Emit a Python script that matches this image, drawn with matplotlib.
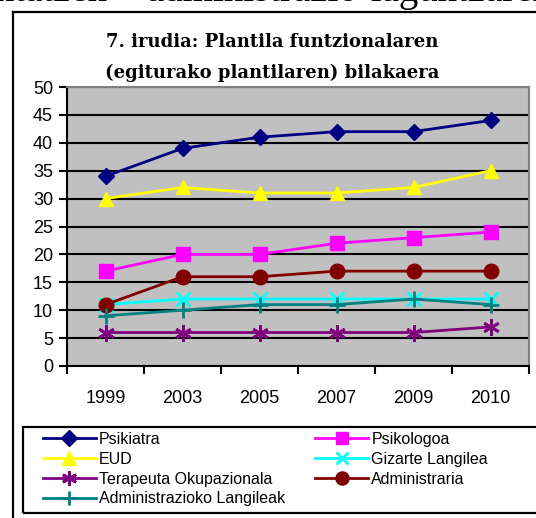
import numpy as np
import matplotlib.pyplot as plt
from matplotlib.lines import Line2D
from matplotlib.patches import Rectangle

years = ["1999", "2003", "2005", "2007", "2009", "2010"]

psikiatra = [34, 39, 41, 42, 42, 44]
psikologoa = [17, 20, 20, 22, 23, 24]
eud = [30, 32, 31, 31, 32, 35]
gizarte = [11, 12, 12, 12, 12, 12]
terapeuta = [6, 6, 6, 6, 6, 7]
administraria = [11, 16, 16, 17, 17, 17]
admin_langileak = [9, 10, 11, 11, 12, 11]

W, H = 536, 518
fig = plt.figure(figsize=(W / 100, H / 100), dpi=100)
plt.rcParams['font.family'] = ['Liberation Sans', 'DejaVu Sans']

# cut off line of document text at the very top
fig.text(136 / W, 1 - 1 / H, "kontatzen –", ha='right', va='baseline',
         fontsize=28, family='Liberation Serif')
fig.text(147 / W, 1 - 1 / H, "administrazio-laguntzaren", ha='left', va='baseline',
         fontsize=28, family='Liberation Serif')

# outer frame (left and top edges)
fig.add_artist(Line2D([13 / W, 13 / W], [0, 1 - 12 / H], color='black', lw=1.6))
fig.add_artist(Line2D([13 / W, 1], [1 - 12 / H, 1 - 12 / H], color='black', lw=1.6))

ax = fig.add_axes([67 / W, 1 - 366 / H, (529 - 67) / W, (366 - 87) / H])
ax.set_facecolor('#C0C0C0')

x = np.arange(len(years))
series = [
    (psikiatra, "Psikiatra", '#000080', 'D', 8.5),
    (psikologoa, "Psikologoa", '#FF00FF', 's', 9.5),
    (eud, "EUD", '#FFFF00', '^', 10.5),
    (gizarte, "Gizarte Langilea", '#00FFFF', 'x', 10),
    (terapeuta, "Terapeuta Okupazionala", '#800080', (6, 2, 0), 12),
    (administraria, "Administraria", '#800000', 'o', 10.5),
    (admin_langileak, "Administrazioko Langileak", '#008080', '+', 11),
]
handles = {}
for vals, name, col, mk, ms in series:
    mew = 2 if mk in ('x', '+') or isinstance(mk, tuple) else 1
    h, = ax.plot(x, vals, color=col, lw=2, marker=mk, ms=ms, mec=col, mfc=col, mew=mew,
                 label=name)
    handles[name] = h

ax.set_xlim(-0.5, len(years) - 0.5)
ax.set_ylim(0, 50)
ax.set_yticks(np.arange(0, 51, 5))
ax.yaxis.grid(True, color='black', lw=1.5)
ax.set_axisbelow(True)
ax.set_xticks(np.arange(-0.5, len(years), 1))
ax.set_xticklabels([])
ax.set_xticks(x, minor=True)
ax.set_xticklabels(years, minor=True, fontsize=13)
ax.tick_params(axis='x', which='minor', length=0, pad=17)
ax.tick_params(axis='x', which='major', length=6, width=1.5, direction='out')
ax.tick_params(axis='y', length=6, width=1.5, labelsize=13, pad=4)
for s in ['left', 'bottom']:
    ax.spines[s].set_linewidth(1.5)
for s in ['top', 'right']:
    ax.spines[s].set_color('#808080')
    ax.spines[s].set_linewidth(1.5)

fig.text(272 / W, 1 - 42 / H, "7. irudia: Plantila funtzionalaren", ha='center', va='center',
         fontsize=13, fontweight='bold', family='DejaVu Serif')
fig.text(272 / W, 1 - 73 / H, "(egiturako plantilaren) bilakaera", ha='center', va='center',
         fontsize=13, fontweight='bold', family='DejaVu Serif')

# legend box, running past the right edge like the reference
fig.add_artist(Rectangle((23 / W, 1 - 513 / H), (560 - 23) / W, (513 - 427) / H,
                         transform=fig.transFigure, fill=False, edgecolor='black', lw=1.6))

order = ["Psikiatra", "EUD", "Terapeuta Okupazionala", "Administrazioko Langileak",
         "Psikologoa", "Gizarte Langilea", "Administraria"]
leg = fig.legend([handles[n] for n in order], order, ncol=2, loc='upper left',
                 bbox_to_anchor=(43 / W, 1 - 432 / H), frameon=False,
                 fontsize=11.5, handlelength=3.3, handletextpad=0.2, labelspacing=0.3,
                 columnspacing=1.9, borderpad=0, borderaxespad=0)
for lh in leg.legend_handles:
    lh.set_markersize(lh.get_markersize() * 0.9)

plt.savefig("out.png", dpi=100)
